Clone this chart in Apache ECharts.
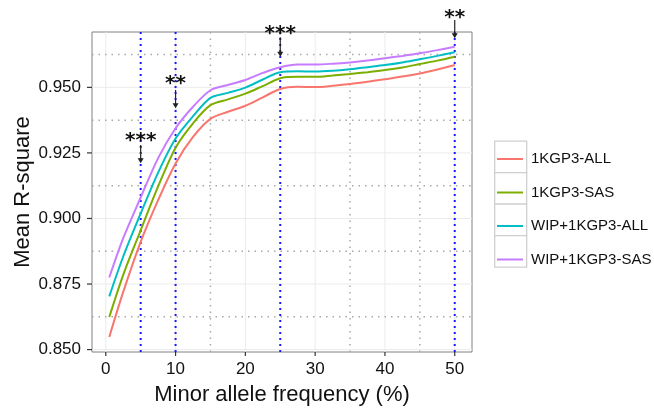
<!DOCTYPE html>
<html>
<head>
<meta charset="utf-8">
<script src="https://cdn.jsdelivr.net/npm/echarts@6/dist/echarts.min.js"></script>
<style>html,body{margin:0;padding:0;background:#fff}#c{width:654px;height:408px}</style>
</head>
<body>
<div id="c"></div>
<script>
// ---- data ----
var maf = [0.5, 2.5, 5, 7.5, 10, 12.5, 15, 17.5, 20, 22.5, 25, 27.5, 30, 32.5, 35, 37.5, 40, 42.5, 45, 47.5, 50];
var kgp3All = [0.8548, 0.8720, 0.8911, 0.9070, 0.9210, 0.9311, 0.9380, 0.9407, 0.9430, 0.9462, 0.9494, 0.9502, 0.9501, 0.9506, 0.9513, 0.9521, 0.9531, 0.9541, 0.9553, 0.9568, 0.9585];
var kgp3Sas = [0.8624, 0.8785, 0.8955, 0.9122, 0.9270, 0.9363, 0.9432, 0.9454, 0.9476, 0.9505, 0.9535, 0.9540, 0.9540, 0.9545, 0.9551, 0.9558, 0.9566, 0.9576, 0.9589, 0.9602, 0.9617];
var wipAll = [0.8703, 0.8855, 0.9019, 0.9175, 0.9305, 0.9390, 0.9460, 0.9479, 0.9499, 0.9530, 0.9558, 0.9561, 0.9560, 0.9563, 0.9569, 0.9577, 0.9585, 0.9595, 0.9607, 0.9620, 0.9634];
var wipSas = [0.8775, 0.8925, 0.9080, 0.9230, 0.9344, 0.9426, 0.9489, 0.9509, 0.9528, 0.9555, 0.9577, 0.9587, 0.9587, 0.9590, 0.9595, 0.9602, 0.9611, 0.9620, 0.9630, 0.9642, 0.9655];
var seriesNames = ['1KGP3-ALL', '1KGP3-SAS', 'WIP+1KGP3-ALL', 'WIP+1KGP3-SAS'];
var xTicks = [0, 10, 20, 30, 40, 50];
var yTicks = [0.850, 0.875, 0.900, 0.925, 0.950];
var xMinorDotted = [15, 35, 45];
var yMinorDotted = [0.8625, 0.8875, 0.9125, 0.9375, 0.9625];
var xBlueDotted = [5, 10, 25, 50];
// significance annotations
var annX = [5, 10, 25, 50];
var annText = ['***', '**', '***', '**'];
var annTextY = [0.9310, 0.9528, 0.9719, 0.9780];
var arrowFromY = [0.9280, 0.9490, 0.9691, 0.9757];
var arrowToY = [0.9211, 0.9420, 0.9617, 0.9687];

// ---- chart ----
var X_MIN = -1.975, X_MAX = 52.475, Y_MIN = 0.84908, Y_MAX = 0.97111;
var colors = ['#F8766D', '#7CAE00', '#00BFC4', '#C77CFF'];
var allSeries = [kgp3All, kgp3Sas, wipAll, wipSas];
function pairs(xs, ys) { return xs.map(function (x, i) { return [x, ys[i]]; }); }

var STY = {
  major: { stroke: '#ebebeb', lineWidth: 1 },
  grey: { stroke: '#a8a8a8', lineWidth: 1.5, lineDash: [1.5, 5] },
  blue: { stroke: '#1a1aff', lineWidth: 2, lineDash: [2, 4] },
  tick: { stroke: '#333', lineWidth: 1.2 }
};
var refLines = [];
xTicks.forEach(function (v) { refLines.push({ value: [v, Y_MIN], dir: 'v', sty: 'major' }); });
yTicks.forEach(function (v) { refLines.push({ value: [X_MIN, v], dir: 'h', sty: 'major' }); });
yMinorDotted.forEach(function (v) { refLines.push({ value: [X_MIN, v], dir: 'h', sty: 'grey' }); });
xMinorDotted.forEach(function (v) { refLines.push({ value: [v, Y_MIN], dir: 'v', sty: 'grey' }); });
xBlueDotted.forEach(function (v) { refLines.push({ value: [v, Y_MIN], dir: 'v', sty: 'blue' }); });
xTicks.forEach(function (v) { refLines.push({ value: [v, Y_MIN], dir: 'xt', sty: 'tick' }); });
yTicks.forEach(function (v) { refLines.push({ value: [X_MIN, v], dir: 'yt', sty: 'tick' }); });

var series = [{
  type: 'custom', name: 'refLines', silent: true, z: 1, clip: false,
  data: refLines.map(function (r) { return r.value; }),
  renderItem: function (params, api) {
    var r = refLines[params.dataIndex];
    var cs = params.coordSys;
    var p = api.coord([api.value(0), api.value(1)]);
    var shape;
    if (r.dir === 'v') shape = { x1: p[0], y1: cs.y, x2: p[0], y2: cs.y + cs.height };
    else if (r.dir === 'h') shape = { x1: cs.x, y1: p[1], x2: cs.x + cs.width, y2: p[1] };
    else if (r.dir === 'xt') shape = { x1: p[0], y1: cs.y + cs.height, x2: p[0], y2: cs.y + cs.height + 4 };
    else shape = { x1: cs.x - 5, y1: p[1], x2: cs.x, y2: p[1] };
    return { type: 'line', shape: shape, style: STY[r.sty] };
  }
}];
allSeries.forEach(function (ys, i) {
  series.push({
    type: 'line', name: seriesNames[i], data: pairs(maf, ys), showSymbol: false,
    smooth: 0.3,
    lineStyle: { color: colors[i], width: 2 }, itemStyle: { color: colors[i] }, z: 3
  });
});
series.push({
  type: 'custom', name: 'ann', clip: false, z: 5, silent: true,
  data: annX.map(function (x, i) { return [x, annTextY[i], arrowFromY[i], arrowToY[i]]; }),
  renderItem: function (params, api) {
    var x = api.value(0);
    var t = api.coord([x, api.value(1)]);
    var a = api.coord([x, api.value(2)]);
    var b = api.coord([x, api.value(3)]);
    var txt = annText[params.dataIndex];
    return {
      type: 'group',
      children: [
        { type: 'line', shape: { x1: a[0], y1: a[1], x2: b[0], y2: b[1] - 4 }, style: { stroke: '#222', lineWidth: 1.2 } },
        { type: 'polygon', shape: { points: [[b[0] - 3, b[1] - 5], [b[0] + 3, b[1] - 5], [b[0], b[1]]] }, style: { fill: '#222' } },
        { type: 'text', x: t[0], y: t[1] + 4, style: { text: txt, align: 'center', verticalAlign: 'middle', font: 'bold 20px "DejaVu Sans"', fill: '#111' } }
      ]
    };
  }
});

var chart = echarts.init(document.getElementById('c'), null, { renderer: 'canvas' });
chart.setOption({
  animation: false,
  backgroundColor: '#fff',
  grid: { left: 92, top: 32, width: 380, height: 320, show: true, borderColor: '#808080', borderWidth: 1, backgroundColor: 'transparent', containLabel: false, outerBoundsMode: 'none' },
  xAxis: {
    type: 'value', min: X_MIN, max: X_MAX,
    name: 'Minor allele frequency (%)', nameLocation: 'middle', nameGap: 32, nameMoveOverlap: false,
    nameTextStyle: { fontFamily: 'Liberation Sans', fontSize: 22, color: '#111' },
    axisLine: { show: false },
    axisTick: { show: false, customValues: xTicks },
    axisLabel: { customValues: xTicks, margin: 9, fontFamily: 'Liberation Sans', fontSize: 17, color: '#111' },
    splitLine: { show: false }
  },
  yAxis: {
    type: 'value', min: Y_MIN, max: Y_MAX,
    name: 'Mean R-square', nameLocation: 'middle', nameGap: 58, nameMoveOverlap: false,
    nameTextStyle: { fontFamily: 'Liberation Sans', fontSize: 22, color: '#111' },
    axisLine: { show: false },
    axisTick: { show: false, customValues: yTicks },
    axisLabel: { customValues: yTicks, margin: 11, fontFamily: 'Liberation Sans', fontSize: 17, color: '#111',
      formatter: function (v) { return v.toFixed(3); } },
    splitLine: { show: false }
  },
  legend: {
    data: seriesNames, orient: 'vertical', left: 497, top: 150, padding: 0,
    icon: 'rect', itemWidth: 26, itemHeight: 2, itemGap: 15.5, z: 6,
    textStyle: { fontFamily: 'Liberation Sans', fontSize: 15, color: '#111', lineHeight: 16, padding: [2, 0, 0, 3] }
  },
  graphic: [0, 1, 2, 3].map(function (i) {
    return { type: 'rect', z: 1, left: 494, top: 140.5 + i * 31.5, shape: { width: 32, height: 31.5 },
      style: { fill: '#fff', stroke: '#cfcfcf', lineWidth: 1.3 } };
  }),
  series: series
});
</script>
</body>
</html>
